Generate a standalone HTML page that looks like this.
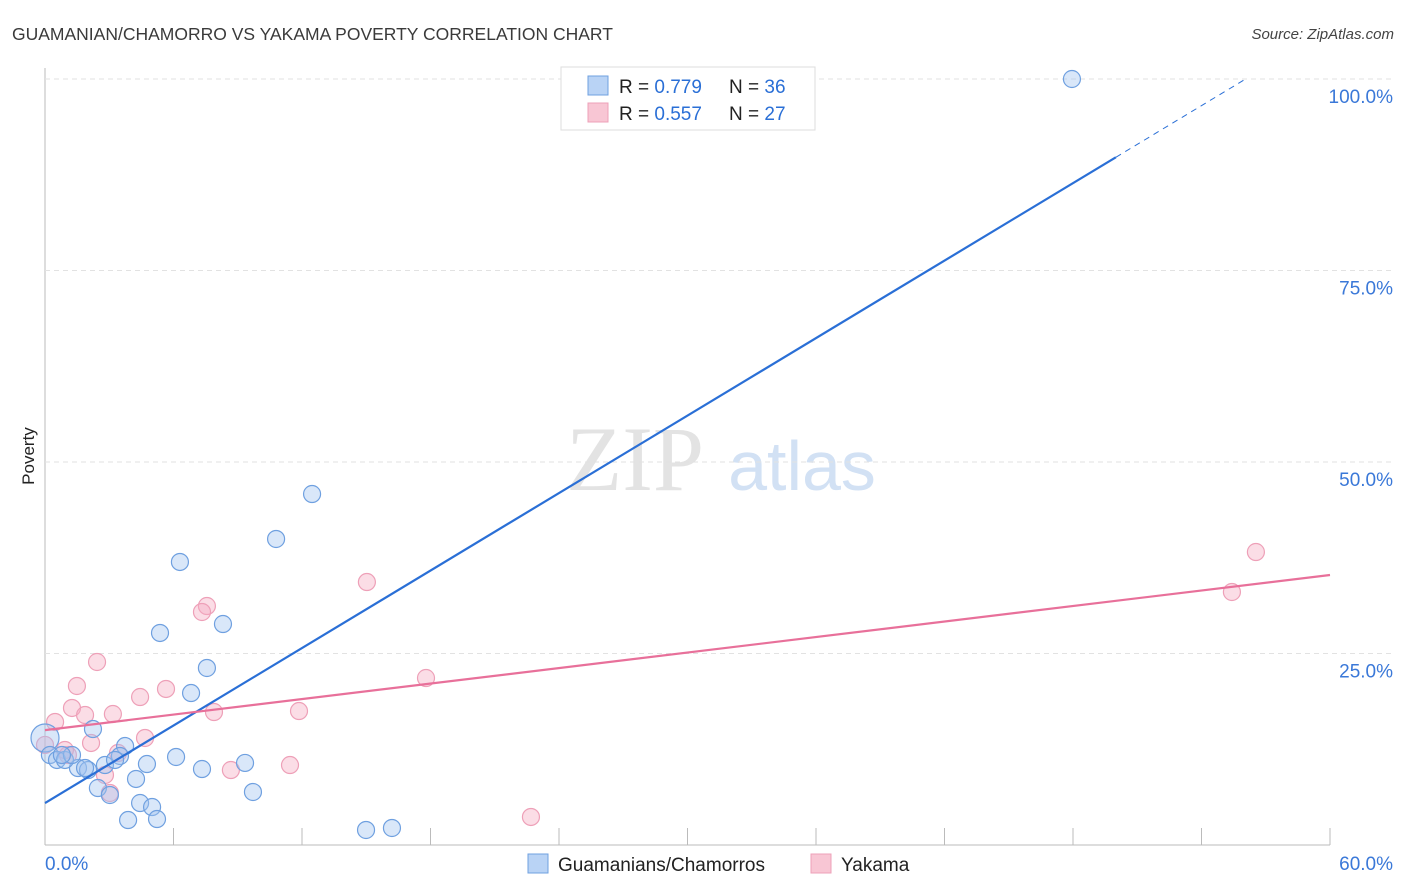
<!DOCTYPE html>
<html><head><meta charset="utf-8">
<style>
body{margin:0;background:#fff;font-family:"Liberation Sans",sans-serif;}
#wrap{position:relative;width:1406px;height:892px;overflow:hidden;}
</style></head>
<body>
<div id="wrap">
<svg id="svg" width="1406" height="892" xmlns="http://www.w3.org/2000/svg">
<text x="12" y="40" font-size="17.5" fill="#3a3a3a">GUAMANIAN/CHAMORRO VS YAKAMA POVERTY CORRELATION CHART</text>
<text x="1394" y="39" font-size="15" fill="#444" font-style="italic" text-anchor="end">Source: ZipAtlas.com</text>
<text x="34" y="456" font-size="17" fill="#222" text-anchor="middle" transform="rotate(-90 34 456)">Poverty</text>
<g>
<text x="635" y="490" font-size="92" fill="#ddd" font-family="Liberation Serif,serif" text-anchor="middle" opacity="0.8">ZIP</text>
<text x="802" y="490" font-size="70" fill="#c8daf2" text-anchor="middle" opacity="0.8">atlas</text>
</g>
<g id="grid"></g>
<g id="marks"></g>
<g id="lines"></g>
<g>
<rect x="561" y="67" width="254" height="63" fill="#fff" stroke="#ddd"/>
<rect x="588" y="76" width="20" height="19" fill="#b9d3f5" stroke="#6fa0e0"/>
<text x="619" y="93" font-size="19" fill="#222">R = <tspan fill="#2a6fd6">0.779</tspan></text>
<text x="729" y="93" font-size="19" fill="#222">N = <tspan fill="#2a6fd6">36</tspan></text>
<rect x="588" y="103" width="20" height="19" fill="#f8c6d4" stroke="#eea0b8"/>
<text x="619" y="120" font-size="19" fill="#222">R = <tspan fill="#2a6fd6">0.557</tspan></text>
<text x="729" y="120" font-size="19" fill="#222">N = <tspan fill="#2a6fd6">27</tspan></text>
</g>
<g>
<rect x="528" y="854" width="20" height="19" fill="#b9d3f5" stroke="#6fa0e0"/>
<text x="558" y="871" font-size="19" fill="#222">Guamanians/Chamorros</text>
<rect x="811" y="854" width="20" height="19" fill="#f8c6d4" stroke="#eea0b8"/>
<text x="841" y="871" font-size="19" fill="#222">Yakama</text>
</g>
</svg>
</div>
<script>
const xTicks=[0,6,12,18,24,30,36,42,48,54,60];
const yTicks=[25,50,75,100];
const yTickLabels=["25.0%","50.0%","75.0%","100.0%"];
const blueX=[47.95,12.47,10.79,6.30,8.31,5.37,7.56,6.82,2.24,3.74,3.50,2.80,4.76,6.12,7.33,9.34,9.71,4.25,1.54,2.01,2.47,3.03,4.44,5.00,3.88,5.23,14.99,16.20,0,0.23,0.56,0.93,1.26,0.79,1.87,3.27];
const blueY=[100.0,45.82,39.95,36.95,28.85,27.68,23.11,19.84,15.14,12.92,11.62,10.44,10.57,11.49,9.92,10.71,6.92,8.62,10.05,9.79,7.44,6.53,5.48,4.96,3.26,3.39,1.96,2.22,13.97,11.75,11.10,11.10,11.75,11.75,10.05,11.10];
const pinkX=[56.54,55.42,15.03,7.56,7.33,2.43,1.49,5.65,4.44,1.26,1.87,3.17,0.47,7.89,11.86,17.79,4.67,2.15,0,1.07,3.41,11.44,8.68,2.80,3.03,22.69,0.93];
const pinkY=[38.25,33.03,34.33,31.20,30.42,23.89,20.76,20.37,19.32,17.89,16.97,17.10,16.06,17.36,17.49,21.80,13.97,13.32,13.06,11.75,12.01,10.44,9.79,9.14,6.79,3.66,12.40];
const blueTrend=[5.48,1.686];
const pinkTrend=[15.0,0.3375];
const X0=45,X1=1330,Y0=845,Y100=79;
const sx=v=>X0+(v/60)*(X1-X0);
const sy=v=>Y0-(v/100)*(Y0-Y100);
const NS="http://www.w3.org/2000/svg";
function mk(tag,attrs,parent){const e=document.createElementNS(NS,tag);for(const k in attrs)e.setAttribute(k,attrs[k]);parent.appendChild(e);return e;}
const grid=document.getElementById('grid'),marks=document.getElementById('marks'),lines=document.getElementById('lines');
let ax=mk('line',{x1:X0,y1:68,x2:X0,y2:Y0,stroke:'#bbb'},grid);


let bx=mk('line',{x1:X0,y1:Y0,x2:X1,y2:Y0,stroke:'#bbb'},grid);


yTicks.forEach((t,i)=>{
 const g=mk('line',{x1:X0,y1:sy(t),x2:1395,y2:sy(t),stroke:'#e2e2e2','stroke-dasharray':'5,4'},grid);
 
 
 const tx=mk('text',{x:1393,y:sy(t)+24,'font-size':19,fill:'#3a78d8','text-anchor':'end'},grid);
 tx.textContent=yTickLabels[i];
 
 
});
xTicks.forEach(t=>{
 const l=mk('line',{x1:sx(t),y1:828,x2:sx(t),y2:Y0,stroke:'#bbb'},grid);
 
 
});
let t0=mk('text',{x:45,y:870,'font-size':19,fill:'#3a78d8'},grid);t0.textContent='0.0%';


let t1=mk('text',{x:1393,y:870,'font-size':19,fill:'#3a78d8','text-anchor':'end'},grid);t1.textContent='60.0%';


pinkX.forEach((x,i)=>{
 const c=mk('circle',{cx:sx(x),cy:sy(pinkY[i]),r:8.5,fill:'rgba(244,170,192,0.4)',stroke:'#eea0b8','stroke-width':1.2},marks);
 
 
});
blueX.forEach((x,i)=>{
 const r=(i===28)?14:8.5;
 const c=mk('circle',{cx:sx(x),cy:sy(blueY[i]),r:r,fill:'rgba(160,196,240,0.4)',stroke:'#6fa0e0','stroke-width':1.2},marks);
 
 
});
const bl=mk('line',{x1:sx(0),y1:sy(blueTrend[0]),x2:sx(50),y2:sy(blueTrend[0]+blueTrend[1]*50),stroke:'#2a6fd6','stroke-width':2.2},lines);


const bd=mk('line',{x1:sx(50),y1:sy(blueTrend[0]+blueTrend[1]*50),x2:sx(56),y2:sy(blueTrend[0]+blueTrend[1]*56),stroke:'#2a6fd6','stroke-width':1,'stroke-dasharray':'6,5'},lines);


const pl=mk('line',{x1:sx(0),y1:sy(pinkTrend[0]),x2:sx(60),y2:sy(pinkTrend[0]+pinkTrend[1]*60),stroke:'#e8709a','stroke-width':2.2},lines);


</script>
</body></html>
